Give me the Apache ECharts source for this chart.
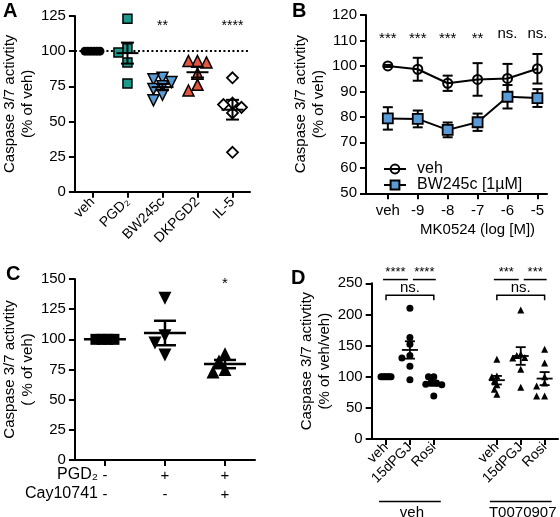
<!DOCTYPE html>
<html><head><meta charset="utf-8">
<script src="https://cdn.jsdelivr.net/npm/echarts@6/dist/echarts.min.js"></script>
<style>html,body{margin:0;padding:0;background:#fff}#c{width:560px;height:517px}</style>
</head><body><div id="c"></div>
<script>
// ---------- Panel A ----------
const catsA = ['veh', 'PGD₂', 'BW245c', 'DKPGD2', 'IL-5'];
const vehA = [100, 100, 100, 100, 100, 100];
const pgd2A = [123, 102, 99, 92, 77];
const bw245cA = [81, 80, 78, 75, 73, 69, 65];
const dkpgd2A = [93, 93, 92, 84, 76, 72];
const il5A = [81, 63, 62, 60, 56, 28];
const starsA = ['', '', '**', '', '****'];
// ---------- Panel B ----------
const catsB = ['veh', '-9', '-8', '-7', '-6', '-5'];
const vehMeanB = [100, 98.7, 93.2, 94.7, 95.1, 98.9];
const vehSemB = [0.4, 4.5, 3.0, 6.4, 5.7, 5.8];
const bwMeanB = [79.4, 79.2, 74.9, 77.9, 87.9, 87.4];
const bwSemB = [4.4, 3.3, 2.9, 3.4, 4.6, 3.5];
const starsB = ['***', '***', '***', '**', 'ns.', 'ns.'];
const titleB = 'MK0524 (log [M])';
// ---------- Panel C ----------
const pgdRowC = ['-', '+', '+'];
const cayRowC = ['-', '-', '+'];
const vehC = [100, 100, 100, 100];
const pgdC = [134, 103, 97, 87];
const pgdCayC = [88, 82, 75, 73];
const starsC = ['', '', '*'];
// ---------- Panel D ----------
const catsD = ['veh', '15dPGJ', 'Rosi'];
const groupsD = ['veh', 'T0070907'];
const vehVehD = [100, 100, 100, 100, 100, 100, 100];
const vehPgjD = [210, 163, 152, 134, 130, 117, 95];
const vehRosiD = [100, 100, 91, 90, 88, 87, 69];
const tVehD = [128, 101, 100, 93, 87, 80, 72];
const tPgjD = [207, 136, 134, 131, 130, 112, 83];
const tRosiD = [144, 122, 100, 90, 85, 69, 69];
const starsD = ['****', '****', '***', '***'];
const nsD = ['ns.', 'ns.'];

const FONT = '"Liberation Sans", Arial, Helvetica, sans-serif';
const G = {
  A: {left: 72, top: 16, width: 178, height: 175.7},
  B: {left: 366, top: 15, width: 181, height: 178.3},
  C: {left: 70, top: 279, width: 185, height: 181},
  D: {left: 371.7, top: 283.3, width: 186.3, height: 155.7}
};
const GAP = 4.64;
const posD = groupsD.flatMap((g, gi) => catsD.map((c, ci) => ci + gi * GAP));

const mean = a => a.reduce((s, v) => s + v, 0) / a.length;
const sem = a => { const m = mean(a); return Math.sqrt(a.reduce((s, v) => s + (v - m) * (v - m), 0) / (a.length - 1)) / Math.sqrt(a.length); };

function swarm(vals, ppu, minDist, step, maxHalf) {
  const placed = [];
  let offs = vals.map(v => {
    const y = v * ppu;
    for (let k = 0; k < 60; k++) {
      const m = k === 0 ? 0 : (k % 2 ? -Math.ceil(k / 2) : k / 2);
      const x = m * step;
      if (placed.every(p => Math.hypot(p[0] - x, p[1] - y) >= minDist)) { placed.push([x, y]); return x; }
    }
    return 0;
  });
  const mx = Math.max(...offs.map(Math.abs));
  if (mx > maxHalf) offs = offs.map(o => o * maxHalf / mx);
  if (Math.max(...vals) === Math.min(...vals)) {
    const c = (Math.max(...offs) + Math.min(...offs)) / 2; offs = offs.map(o => o - c);
  }
  return offs;
}

function dots(o) {
  const offs = swarm(o.vals, o.ppu, o.minDist, o.step, o.maxHalf);
  const s = {
    type: 'scatter', xAxisIndex: o.g, yAxisIndex: o.g, symbol: o.symbol, symbolSize: o.size,
    symbolRotate: o.rot || 0, silent: true, z: 3,
    itemStyle: {color: o.fill, borderColor: '#000', borderWidth: o.bw || 0, opacity: 1},
    data: o.vals.map((v, i) => ({value: [o.pos, v], symbolOffset: [offs[i], 0]}))
  };
  if (o.markLine) s.markLine = o.markLine;
  return s;
}

function meanSem(g, items, hw, cw, lw, z) {
  return {
    type: 'custom', xAxisIndex: g, yAxisIndex: g, data: items, z: z || 4, silent: true, clip: false,
    renderItem: (p, api) => {
      const x = api.value(0), m = api.value(1), s = api.value(2);
      const c = api.coord([x, m]), t = api.coord([x, m + s]), b = api.coord([x, m - s]);
      const st = {stroke: '#000', lineWidth: lw};
      const ch = [];
      if (hw > 0) ch.push({type: 'line', shape: {x1: c[0] - hw, y1: c[1], x2: c[0] + hw, y2: c[1]}, style: st});
      if (s > 0) {
        ch.push({type: 'line', shape: {x1: c[0], y1: t[1], x2: c[0], y2: b[1]}, style: st});
        ch.push({type: 'line', shape: {x1: c[0] - cw, y1: t[1], x2: c[0] + cw, y2: t[1]}, style: st});
        ch.push({type: 'line', shape: {x1: c[0] - cw, y1: b[1], x2: c[0] + cw, y2: b[1]}, style: st});
      }
      return {type: 'group', children: ch};
    }
  };
}

function texts(g, items, fs) {
  return {
    type: 'custom', xAxisIndex: g, yAxisIndex: g, silent: true, clip: false, z: 6,
    data: items.map((it, i) => [it.pos, it.y, i]),
    renderItem: (p, api) => {
      const it = items[api.value(2)];
      const c = api.coord([api.value(0), api.value(1)]);
      return {type: 'text', x: c[0], y: c[1], style: {text: it.text, fill: '#000', font: fs + 'px ' + FONT, align: 'center', verticalAlign: 'middle'}};
    }
  };
}

const axLine = {show: true, onZero: false, lineStyle: {color: '#000', width: 2}};
const axTick = {show: true, length: 6, lineStyle: {color: '#000', width: 2}};
function yAx(g, min, max, interval, name, nameGap) {
  return {
    type: 'value', gridIndex: g, min, max, interval, axisLine: axLine, axisTick: axTick,
    splitLine: {show: false}, axisLabel: {color: '#000', fontSize: 15, margin: 9},
    name, nameLocation: 'middle', nameGap, nameRotate: 90,
    nameTextStyle: {color: '#000', fontSize: 15, lineHeight: 18}
  };
}

const ppuA = G.A.height / 125, ppuC = G.C.height / 150, ppuD = G.D.height / 250;
const groupsA = [vehA, pgd2A, bw245cA, dkpgd2A, il5A];
const groupsC = [vehC, pgdC, pgdCayC];
const groupsDD = [vehVehD, vehPgjD, vehRosiD, tVehD, tPgjD, tRosiD];

const series = [];
// Panel A
const swA = {g: 0, ppu: ppuA, minDist: 8, step: 5.5, maxHalf: 9};
series.push(dots({...swA, pos: 0, vals: vehA, symbol: 'circle', size: 9, fill: '#000',
  markLine: {symbol: 'none', silent: true, label: {show: false}, z: 1,
    lineStyle: {type: [2, 2.5], color: '#000', width: 2}, data: [{yAxis: 100}]}}));
series.push(dots({...swA, pos: 1, vals: pgd2A, symbol: 'rect', size: 9, fill: '#1b9a8c', bw: 1.5}));
series.push(dots({...swA, pos: 2, vals: bw245cA, symbol: 'triangle', rot: 180, size: 11, fill: '#5b9bd5', bw: 1.5}));
series.push(dots({...swA, pos: 3, vals: dkpgd2A, symbol: 'triangle', size: 11, fill: '#e2553f', bw: 1.5}));
series.push(dots({...swA, pos: 4, vals: il5A, symbol: 'diamond', size: 11, fill: '#fff', bw: 1.8}));
series.push(meanSem(0, groupsA.map((a, i) => [i, mean(a), sem(a)]), 11, 6.5, 2));
series.push(texts(0, starsA.map((s, i) => ({pos: i, y: 118, text: s})).filter(t => t.text), 14));

// Panel B
series.push(meanSem(1, vehMeanB.map((m, i) => [i, m, vehSemB[i]]), 0, 5, 2, 2));
series.push(meanSem(1, bwMeanB.map((m, i) => [i, m, bwSemB[i]]), 0, 5, 2, 2));
series.push({type: 'line', name: 'veh', xAxisIndex: 1, yAxisIndex: 1, z: 3, silent: true,
  data: vehMeanB.map((v, i) => [i, v]), symbol: 'circle', symbolSize: 9, showSymbol: true,
  lineStyle: {color: '#000', width: 2}, itemStyle: {color: 'rgba(255,255,255,0)', borderColor: '#000', borderWidth: 2}});
series.push({type: 'line', name: 'BW245c [1µM]', xAxisIndex: 1, yAxisIndex: 1, z: 3, silent: true,
  data: bwMeanB.map((v, i) => [i, v]), symbol: 'rect', symbolSize: 10, showSymbol: true,
  lineStyle: {color: '#000', width: 2}, itemStyle: {color: '#5b9bd5', borderColor: '#000', borderWidth: 1.8}});
series.push(texts(1, starsB.map((s, i) => ({pos: i, y: s.startsWith('*') ? 110.5 : 112.5, text: s})), 15));

// Panel C
const swC = {g: 2, ppu: ppuC, minDist: 11, step: 10, maxHalf: 12};
series.push(dots({...swC, pos: 0, vals: vehC, symbol: 'rect', size: 11, fill: '#000'}));
series.push(dots({...swC, pos: 1, vals: pgdC, symbol: 'triangle', rot: 180, size: 13, fill: '#000'}));
series.push(dots({...swC, pos: 2, vals: pgdCayC, symbol: 'triangle', size: 13, fill: '#000'}));
series.push(meanSem(2, groupsC.map((a, i) => [i, mean(a), sem(a)]), 21, 11, 2.5));
series.push(texts(2, starsC.map((s, i) => ({pos: i, y: 146, text: s})).filter(t => t.text), 15));

// Panel D
const swD = {g: 3, ppu: ppuD, minDist: 6, step: 5, maxHalf: 8};
groupsDD.forEach((a, i) => {
  const tri = i >= 3;
  series.push(dots({...swD, pos: posD[i], vals: a, symbol: tri ? 'triangle' : 'circle', size: 7,
    fill: '#000', maxHalf: i % 3 === 0 ? 5 : 8}));
});
series.push(meanSem(3, groupsDD.map((a, i) => [posD[i], mean(a), sem(a)]), 8, 5, 1.8));
series.push({
  type: 'custom', xAxisIndex: 3, yAxisIndex: 3, silent: true, clip: false, z: 6,
  data: groupsD.map((g, gi) => [gi]),
  renderItem: (p, api) => {
    const gi = api.value(0);
    const x = i => api.coord([posD[gi * 3 + i], 0])[0];
    const yl = api.coord([0, 256])[1], yst = api.coord([0, 268])[1];
    const yns = api.coord([0, 243])[1], yb = api.coord([0, 231])[1];
    const st = {stroke: '#000', lineWidth: 1.5};
    const tf = fs => fs + 'px ' + FONT;
    const l1 = [x(0) - 3, x(1) - 2], l2 = [x(1) + 3, x(2) + 2];
    return {type: 'group', children: [
      {type: 'line', shape: {x1: l1[0], y1: yl, x2: l1[1], y2: yl}, style: st},
      {type: 'line', shape: {x1: l2[0], y1: yl, x2: l2[1], y2: yl}, style: st},
      {type: 'text', x: (l1[0] + l1[1]) / 2, y: yst, style: {text: starsD[gi * 2], fill: '#000', font: tf(13), align: 'center', verticalAlign: 'middle'}},
      {type: 'text', x: (l2[0] + l2[1]) / 2, y: yst, style: {text: starsD[gi * 2 + 1], fill: '#000', font: tf(13), align: 'center', verticalAlign: 'middle'}},
      {type: 'polyline', shape: {points: [[x(0), yb + 5], [x(0), yb], [x(2), yb], [x(2), yb + 5]]}, style: {stroke: '#000', lineWidth: 1.5, fill: null}},
      {type: 'text', x: (x(0) + x(2)) / 2, y: yns, style: {text: nsD[gi], fill: '#000', font: tf(15), align: 'center', verticalAlign: 'middle'}}
    ]};
  }
});

const option = {
  animation: false,
  textStyle: {fontFamily: FONT},
  grid: [G.A, G.B, G.C, G.D],
  legend: {
    left: 378, top: 156, orient: 'vertical', itemWidth: 22, itemHeight: 11, itemGap: 0,
    textStyle: {fontSize: 16, lineHeight: 15, color: '#000', padding: [0, 0, 0, 6]},
    data: ['veh', 'BW245c [1µM]'], selectedMode: false
  },
  xAxis: [
    {type: 'category', gridIndex: 0, data: catsA, axisLine: axLine, axisTick: {...axTick, alignWithLabel: true},
      axisLabel: {color: '#000', fontSize: 14, rotate: 45, margin: 8, interval: 0}, splitLine: {show: false}},
    {type: 'value', gridIndex: 1, min: -0.73, max: 5.32, axisLine: axLine,
      axisTick: {...axTick, customValues: catsB.map((c, i) => i)},
      axisLabel: {color: '#000', fontSize: 15, margin: 10, customValues: catsB.map((c, i) => i), formatter: v => catsB[Math.round(v)]},
      splitLine: {show: false}},
    {type: 'category', gridIndex: 2, data: pgdRowC.map((c, i) => String(i)), axisLine: axLine,
      axisTick: {...axTick, alignWithLabel: true},
      axisLabel: {color: '#000', fontSize: 15, lineHeight: 19, margin: 6, interval: 0, formatter: (v, i) => pgdRowC[i] + '\n' + cayRowC[i]},
      splitLine: {show: false}},
    {type: 'value', gridIndex: 3, min: -0.6, max: 7.2, axisLine: axLine,
      axisTick: {...axTick, customValues: posD},
      axisLabel: {color: '#000', fontSize: 14, rotate: 45, margin: 6, customValues: posD,
        formatter: v => { const i = posD.findIndex(p => Math.abs(p - v) < 0.01); return i < 0 ? '' : catsD[i % 3]; }},
      splitLine: {show: false}}
  ],
  yAxis: [
    yAx(0, 0, 125, 25, 'Caspase 3/7 activtity\n(% of veh)', 35),
    yAx(1, 50, 120, 10, 'Caspase 3/7 activtity\n(% of veh)', 31),
    yAx(2, 0, 150, 25, 'Caspase 3/7 activtity\n( % of veh)', 34),
    yAx(3, 0, 250, 50, 'Caspase 3/7 activtity\n(% of veh/veh)', 37)
  ],
  series
};

const chart = echarts.init(document.getElementById('c'), null, {renderer: 'canvas'});
chart.setOption(option);

// graphics positioned from axis pixels
const gfx = [];
const letter = (t, x, y) => ({type: 'text', x, y, style: {text: t, fill: '#000', font: 'bold 20px ' + FONT, align: 'left', verticalAlign: 'top'}});
gfx.push(letter('A', 3, 1), letter('B', 292, 1), letter('C', 6, 264), letter('D', 291, 268));
const bBottom = G.B.top + G.B.height;
gfx.push({type: 'text', x: chart.convertToPixel({xAxisIndex: 1}, 3), y: bBottom + 37, style: {text: titleB, fill: '#000', font: '15px ' + FONT, align: 'center', verticalAlign: 'middle'}});
const cx0 = chart.convertToPixel({xAxisIndex: 2}, '0');
const cBottom = G.C.top + G.C.height;
gfx.push({type: 'text', x: cx0 - 7, y: cBottom + 15, style: {text: 'PGD₂', fill: '#000', font: '16px ' + FONT, align: 'right', verticalAlign: 'middle'}});
gfx.push({type: 'text', x: cx0 - 7, y: cBottom + 34, style: {text: 'Cay10741', fill: '#000', font: '16px ' + FONT, align: 'right', verticalAlign: 'middle'}});
const dBottom = G.D.top + G.D.height;
groupsD.forEach((g, gi) => {
  const x0 = chart.convertToPixel({xAxisIndex: 3}, posD[gi * 3]);
  const x2 = chart.convertToPixel({xAxisIndex: 3}, posD[gi * 3 + 2]);
  gfx.push({type: 'line', shape: {x1: x0 - 7, y1: dBottom + 62.5, x2: x2 + 7, y2: dBottom + 62.5}, style: {stroke: '#000', lineWidth: 1.5}});
  gfx.push({type: 'text', x: (x0 + x2) / 2 + 2, y: dBottom + 74, style: {text: g, fill: '#000', font: '15px ' + FONT, align: 'center', verticalAlign: 'middle'}});
});
chart.setOption({graphic: gfx});
</script></body></html>
